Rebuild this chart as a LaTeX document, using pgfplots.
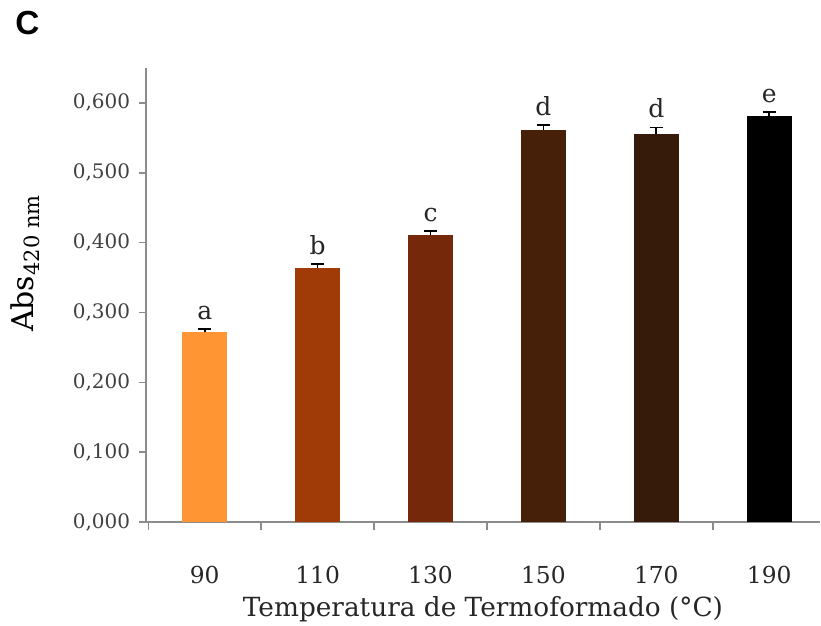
\documentclass[border=0pt]{standalone}
\usepackage{fontspec}
\setmainfont{DejaVu Serif}
\newfontfamily\panelfont{Liberation Sans}
\usepackage{pgfplots}
\pgfplotsset{compat=1.18}
\usepackage{pgfplotstable}

\definecolor{c90}{HTML}{FF9633}
\definecolor{c110}{HTML}{A03A06}
\definecolor{c130}{HTML}{76280A}
\definecolor{c150}{HTML}{462008}
\definecolor{c170}{HTML}{361A0A}
\definecolor{c190}{HTML}{000000}
\definecolor{axgray}{HTML}{8C8C8C}

\pgfplotstableread{
x y err lab
0 0.272 0.004 a
1 0.364 0.005 b
2 0.411 0.006 c
3 0.561 0.007 d
4 0.556 0.009 d
5 0.582 0.005 e
}\datatab

\begin{document}
\begin{tikzpicture}
\path[use as bounding box] (0,0) rectangle (492.6pt,375pt);
\node[anchor=base west, inner sep=0pt, font=\panelfont\bfseries\fontsize{20}{20}\selectfont] at (9pt,354pt) {C};
\begin{axis}[
  at={(87.6pt,61.8pt)}, anchor=south west,
  scale only axis, width=404.4pt, height=272.4pt,
  xmin=-0.52, xmax=5.45, ymin=0, ymax=0.65,
  axis x line*=bottom, axis y line*=left,
  axis line style={draw=axgray, line width=0.9pt, -},
  ybar, bar width=27pt, bar shift=0pt,
  xtick={0,1,2,3,4,5},
  xticklabels={90,110,130,150,170,190},
  major x tick style={draw=none},
  minor xtick={-0.5,0.5,1.5,2.5,3.5,4.5},
  minor x tick style={draw=axgray, line width=0.9pt},
  minor tick length=5pt,
  ytick={0,0.1,0.2,0.3,0.4,0.5,0.6},
  y tick style={draw=axgray, line width=0.9pt},
  major tick length=4pt,
  tick align=outside,
  yticklabel={\pgfmathprintnumber[fixed, fixed zerofill, precision=3, use comma, assume math mode=true]{\tick}},
  y tick label style={font=\fontsize{12}{12}\selectfont, text=black!75, xshift=-2pt},
  x tick label style={font=\fontsize{14}{14}\selectfont, text=black!85, yshift=-19pt},
  xlabel={Temperatura de Termoformado (°C)},
  xlabel style={font=\fontsize{15.8}{15.8}\selectfont, text=black!85, yshift=-1pt},
  ylabel={Abs\textsubscript{420 nm}},
  ylabel style={font=\fontsize{18}{18}\selectfont, at={(ticklabel cs:0.57)}, yshift=13pt},
  error bars/error bar style={black, line width=1pt},
  error bars/error mark options={black, line width=1pt, mark size=4pt, rotate=90},
  clip=false,
]
\addplot[fill=c90, draw=none, error bars/.cd, y dir=plus, y explicit] table[x=x, y=y, y error=err, restrict expr to domain={\thisrow{x}}{0:0}] {\datatab};
\addplot[fill=c110, draw=none, error bars/.cd, y dir=plus, y explicit] table[x=x, y=y, y error=err, restrict expr to domain={\thisrow{x}}{1:1}] {\datatab};
\addplot[fill=c130, draw=none, error bars/.cd, y dir=plus, y explicit] table[x=x, y=y, y error=err, restrict expr to domain={\thisrow{x}}{2:2}] {\datatab};
\addplot[fill=c150, draw=none, error bars/.cd, y dir=plus, y explicit] table[x=x, y=y, y error=err, restrict expr to domain={\thisrow{x}}{3:3}] {\datatab};
\addplot[fill=c170, draw=none, error bars/.cd, y dir=plus, y explicit] table[x=x, y=y, y error=err, restrict expr to domain={\thisrow{x}}{4:4}] {\datatab};
\addplot[fill=c190, draw=none, error bars/.cd, y dir=plus, y explicit] table[x=x, y=y, y error=err, restrict expr to domain={\thisrow{x}}{5:5}] {\datatab};
\addplot[draw=none, fill=none, mark=none, bar width=0pt,
  nodes near coords, point meta=explicit symbolic,
  every node near coord/.append style={font=\fontsize{15}{15}\selectfont, text=black!85, anchor=south, yshift=2pt}]
  table[x=x, y expr=\thisrow{y}+\thisrow{err}, meta=lab] {\datatab};
\end{axis}
\end{tikzpicture}
\end{document}
